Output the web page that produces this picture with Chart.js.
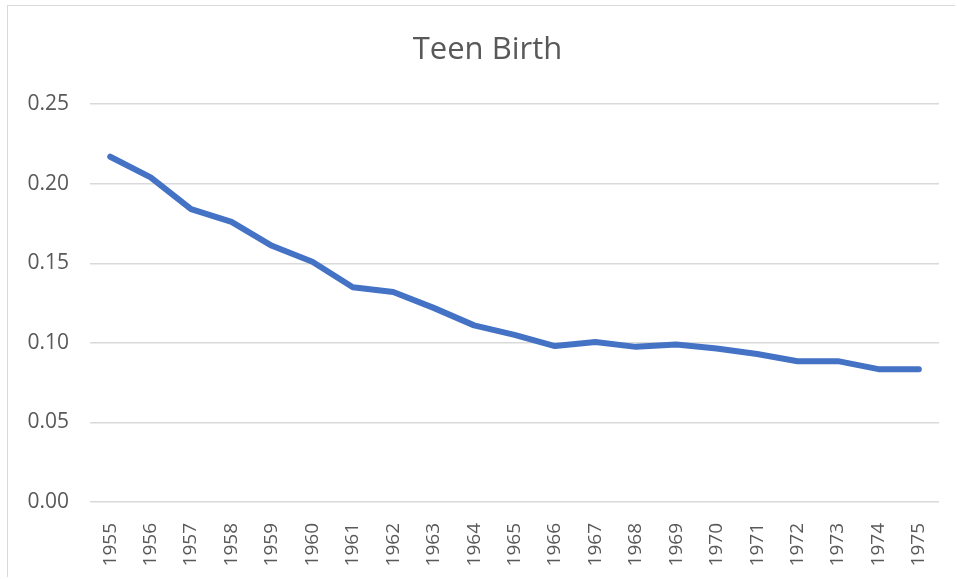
<!DOCTYPE html>
<html>
<head>
<meta charset="utf-8">
<title>Teen Birth</title>
<script src="https://cdn.jsdelivr.net/npm/chart.js@4.4.0/dist/chart.umd.min.js"></script>
<style>
    body { margin: 0; background: #ffffff; }
    #wrap {
        position: absolute;
        left: 7px;
        top: 5px;
        width: 947px;
        height: 571px;
        border-left: 1px solid #d9d9d9;
        border-top: 1px solid #d9d9d9;
    }
</style>
</head>
<body>
<div id="wrap"><canvas id="lineChart"></canvas></div>
<script>
// Chart data
var years = ["1955", "1956", "1957", "1958", "1959", "1960", "1961", "1962", "1963", "1964", "1965",
    "1966", "1967", "1968", "1969", "1970", "1971", "1972", "1973", "1974", "1975"];
var teenBirth = [0.217, 0.204, 0.184, 0.176, 0.161, 0.151, 0.135, 0.132, 0.122, 0.111, 0.105,
    0.098, 0.1005, 0.0975, 0.099, 0.0965, 0.093, 0.0885, 0.0885, 0.0835, 0.0835];
var yTicks = [0, 0.05, 0.10, 0.15, 0.20, 0.25];

var textColor = "#595959";
var fontName = "'Open Sans', 'Noto Sans', sans-serif";

// the original title sits a bit right of the canvas centre
var titleNudge = {
    id: "titleNudge",
    afterLayout: function (chart) {
        chart.titleBlock.left += 27;
    }
};

var ctx = document.getElementById("lineChart").getContext("2d");
new Chart(ctx, {
    type: "line",
    data: {
        labels: years,
        datasets: [{
            label: "Teen Birth",
            data: teenBirth,
            fill: false,
            borderColor: "#4472C4",
            borderWidth: 6,
            borderCapStyle: "round",
            borderJoinStyle: "round",
            pointRadius: 0,
            tension: 0
        }]
    },
    plugins: [titleNudge],
    options: {
        responsive: true,
        maintainAspectRatio: false,
        animation: false,
        layout: {
            padding: { left: 0, right: 15, top: 0, bottom: 0 }
        },
        plugins: {
            legend: { display: false },
            tooltip: { enabled: false },
            title: {
                display: true,
                text: "Teen Birth",
                color: textColor,
                padding: { top: 26, bottom: 35 },
                font: {
                    family: fontName,
                    size: 31,
                    weight: "normal"
                }
            }
        },
        scales: {
            y: {
                min: 0,
                max: 0.25,
                afterBuildTicks: function (axis) {
                    axis.ticks = yTicks.map(function (v) { return { value: v }; });
                },
                afterFit: function (axis) {
                    axis.width = 82;
                },
                border: { display: false },
                grid: {
                    color: "#d9d9d9",
                    lineWidth: 1.5,
                    drawTicks: false
                },
                ticks: {
                    color: textColor,
                    padding: 21,
                    font: { family: fontName, size: 21 },
                    callback: function (value) {
                        return Number(value).toFixed(2);
                    }
                }
            },
            x: {
                offset: true,
                afterFit: function (axis) {
                    axis.height = 75;
                },
                border: { display: false },
                grid: { display: false },
                ticks: {
                    color: textColor,
                    minRotation: 90,
                    maxRotation: 90,
                    autoSkip: false,
                    padding: 13,
                    font: { family: fontName, size: 19 }
                }
            }
        }
    }
});
</script>
</body>
</html>
